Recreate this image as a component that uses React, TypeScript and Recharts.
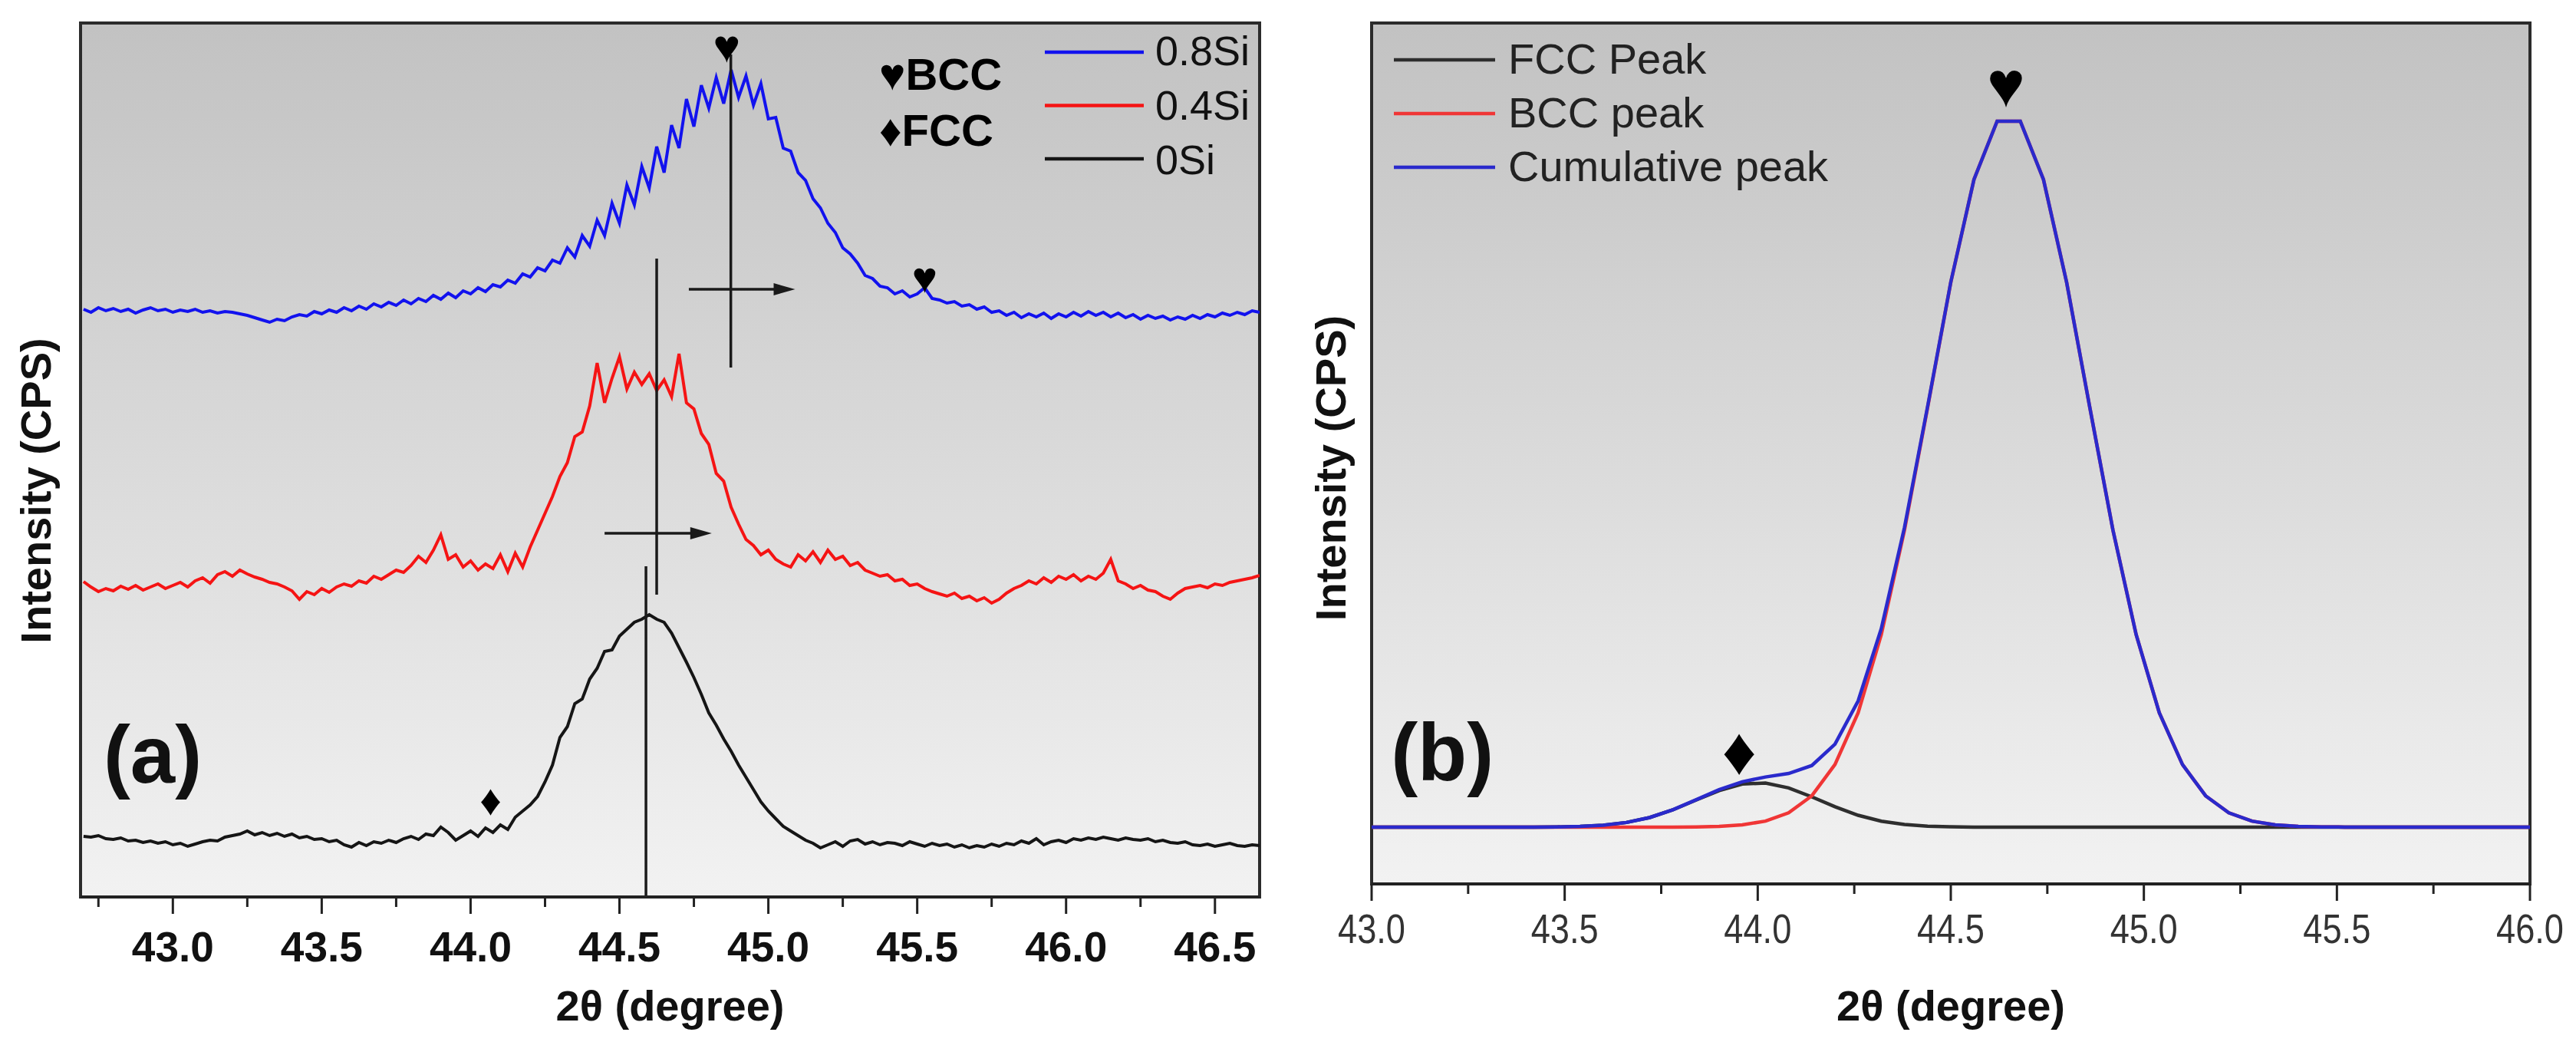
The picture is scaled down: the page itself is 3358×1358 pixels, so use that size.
import {
  Label,
  Legend,
  Line,
  LineChart,
  ReferenceArea,
  ReferenceDot,
  ReferenceLine,
  XAxis,
  YAxis,
} from "recharts";

const FONT = "'Liberation Sans', Arial, sans-serif";
const NARROW = "'Liberation Sans Narrow', 'Arial Narrow', 'Liberation Sans', Arial, sans-serif";

// ---------- panel (a): measured XRD patterns (offset for clarity) ----------
const twoThetaA = [
  42.7, 42.725, 42.75, 42.775, 42.8, 42.825, 42.85, 42.875,
  42.9, 42.925, 42.95, 42.975, 43.0, 43.025, 43.05, 43.075,
  43.1, 43.125, 43.15, 43.175, 43.2, 43.225, 43.25, 43.275,
  43.3, 43.325, 43.35, 43.375, 43.4, 43.425, 43.45, 43.475,
  43.5, 43.525, 43.55, 43.575, 43.6, 43.625, 43.65, 43.675,
  43.7, 43.725, 43.75, 43.775, 43.8, 43.825, 43.85, 43.875,
  43.9, 43.925, 43.95, 43.975, 44.0, 44.025, 44.05, 44.075,
  44.1, 44.125, 44.15, 44.175, 44.2, 44.225, 44.25, 44.275,
  44.3, 44.325, 44.35, 44.375, 44.4, 44.425, 44.45, 44.475,
  44.5, 44.525, 44.55, 44.575, 44.6, 44.625, 44.65, 44.675,
  44.7, 44.725, 44.75, 44.775, 44.8, 44.825, 44.85, 44.875,
  44.9, 44.925, 44.95, 44.975, 45.0, 45.025, 45.05, 45.075,
  45.1, 45.125, 45.15, 45.175, 45.2, 45.225, 45.25, 45.275,
  45.3, 45.325, 45.35, 45.375, 45.4, 45.425, 45.45, 45.475,
  45.5, 45.525, 45.55, 45.575, 45.6, 45.625, 45.65, 45.675,
  45.7, 45.725, 45.75, 45.775, 45.8, 45.825, 45.85, 45.875,
  45.9, 45.925, 45.95, 45.975, 46.0, 46.025, 46.05, 46.075,
  46.1, 46.125, 46.15, 46.175, 46.2, 46.225, 46.25, 46.275,
  46.3, 46.325, 46.35, 46.375, 46.4, 46.425, 46.45, 46.475,
  46.5, 46.525, 46.55, 46.575, 46.6, 46.625, 46.65,
];

const si0 = [
  79, 78, 80, 76, 75, 77, 73, 74,
  71, 73, 70, 72, 68, 70, 66, 69,
  72, 74, 73, 78, 80, 82, 86, 81,
  84, 80, 83, 79, 82, 77, 79, 75,
  76, 72, 74, 68, 65, 71, 67, 72,
  70, 74, 71, 76, 79, 75, 82, 80,
  91, 84, 74, 80, 86, 79, 90, 84,
  94, 88, 104, 112, 120, 131, 150, 172,
  208, 222, 252, 258, 284, 298, 320, 322,
  340, 349, 358, 362, 368, 362, 358, 344,
  325, 306, 286, 264, 240, 224, 206, 190,
  172, 156, 140, 124, 112, 102, 92, 86,
  80, 74, 70, 64, 68, 72, 66, 73,
  75, 69, 72, 68, 71, 70, 67, 72,
  69, 66, 70, 67, 69, 65, 68, 64,
  67, 65, 69, 66, 70, 68, 73, 70,
  76, 68, 72, 74, 71, 76, 74, 77,
  75, 78, 76, 74, 77, 75, 74, 76,
  72, 74, 71, 70, 72, 68, 67, 69,
  66, 68, 70, 67, 66, 68, 67,
];

const si04 = [
  411, 404, 398, 402, 399, 405, 401, 406,
  400, 404, 408, 402, 406, 410, 404, 412,
  416, 409, 420, 424, 418, 426, 421, 417,
  414, 410, 408, 404, 399, 388, 398, 394,
  402, 397, 404, 408, 405, 412, 409, 418,
  414, 420, 426, 423, 432, 444, 436, 452,
  472, 440, 446, 430, 438, 426, 434, 428,
  446, 424, 448, 430, 456, 478, 500, 522,
  548, 566, 600, 606, 640, 696, 644, 676,
  704, 662, 684, 668, 682, 660, 674, 652,
  708, 644, 636, 604, 590, 552, 542, 508,
  486, 466, 458, 446, 452, 440, 434, 430,
  446, 438, 450, 436, 452, 440, 444, 432,
  436, 426, 422, 418, 420, 412, 414, 406,
  408, 402, 398, 395, 392, 396, 389, 392,
  386, 390, 383, 388, 396, 402, 406, 412,
  408, 416, 410, 418, 414, 420, 412, 418,
  414, 422, 440, 412, 408, 402, 406, 400,
  398, 392, 388, 396, 402, 404, 406, 403,
  408, 406, 410, 412, 414, 416, 419,
];

const si08 = [
  766, 762, 768, 764, 767, 763, 766, 761,
  765, 768, 764, 766, 762, 765, 763, 766,
  762, 764, 761, 763, 762, 760, 758, 755,
  752, 749, 753, 751, 756, 759, 757, 763,
  760, 765, 762, 768, 764, 770, 766, 773,
  769, 775, 771, 778, 773, 780, 776, 784,
  779, 787, 781, 790, 786, 794, 789, 798,
  795, 804, 800, 812, 808, 820, 816, 830,
  826, 846, 834, 862, 848, 882, 862, 904,
  878, 928, 902, 952, 924, 978, 944, 1006,
  976, 1040, 1004, 1058, 1028, 1068, 1034, 1078,
  1042, 1070, 1032, 1060, 1014, 1016, 976, 972,
  944, 934, 910, 898, 878, 866, 846, 838,
  826, 810, 806, 796, 794, 786, 790, 782,
  786, 794, 780, 778, 774, 776, 770, 772,
  766, 769, 762, 764, 758, 762, 755, 760,
  756, 761, 754, 760, 756, 762, 757, 763,
  758, 762, 756, 761, 755, 759, 753, 758,
  754, 757, 752, 756, 753, 758, 754, 759,
  756, 761, 758, 762, 759, 764, 762,
];

const majorTicksA = [43.0, 43.5, 44.0, 44.5, 45.0, 45.5, 46.0, 46.5];
const minorTicksA = [42.75, 43.25, 43.75, 44.25, 44.75, 45.25, 45.75, 46.25];

// ---------- panel (b): peak deconvolution ----------
const twoThetaB = [
  43.0, 43.06, 43.12, 43.18, 43.24, 43.3, 43.36, 43.42, 43.48, 43.54,
  43.6, 43.66, 43.72, 43.78, 43.84, 43.9, 43.96, 44.02, 44.08, 44.14,
  44.2, 44.26, 44.32, 44.38, 44.44, 44.5, 44.56, 44.62, 44.68, 44.74,
  44.8, 44.86, 44.92, 44.98, 45.04, 45.1, 45.16, 45.22, 45.28, 45.34,
  45.4, 45.46, 45.52, 45.58, 45.64, 45.7, 45.76, 45.82, 45.88, 45.94,
  46.0,
];

const fccPeak = [
  0, 0, 0, 0, 0, 0, 0, 0.1, 0.3, 0.9,
  2.5, 6.1, 12.5, 22.5, 35.2, 47.7, 56.2, 57.5, 51.2, 39.5,
  26.6, 15.5, 7.8, 3.5, 1.3, 0.4, 0.1, 0, 0, 0,
  0, 0, 0, 0, 0, 0, 0, 0, 0, 0,
  0, 0, 0, 0, 0, 0, 0, 0, 0, 0,
  0,
];

const bccPeak = [
  0, 0, 0, 0, 0, 0, 0, 0, 0, 0,
  0, 0, 0, 0.1, 0.35, 1.1, 3.0, 7.9, 18.7, 40.8,
  81.6, 149, 251, 387, 547, 710, 844, 920, 920, 844,
  710, 547, 387, 251, 149, 81.6, 40.8, 18.7, 7.9, 3.0,
  1.1, 0.35, 0.1, 0, 0, 0, 0, 0, 0, 0,
  0,
];

const cumulativePeak = [
  0, 0, 0, 0, 0, 0, 0, 0.1, 0.3, 0.9,
  2.5, 6.1, 12.5, 22.6, 35.6, 48.8, 59.2, 65.4, 69.9, 80.3,
  108.2, 164.5, 258.8, 390.5, 548.3, 710.4, 844.1, 920, 920, 844,
  710, 547, 387, 251, 149, 81.6, 40.8, 18.7, 7.9, 3.0,
  1.1, 0.35, 0.1, 0, 0, 0, 0, 0, 0, 0,
  0,
];

const majorTicksB = [43.0, 43.5, 44.0, 44.5, 45.0, 45.5, 46.0];
const minorTicksB = [43.25, 43.75, 44.25, 44.75, 45.25, 45.75];

// annotations (2θ, intensity)
const markersA = [
  { t: 44.86, v: 1109, glyph: "♥", size: 60 },
  { t: 45.525, v: 808, glyph: "♥", size: 56 },
  { t: 44.067, v: 127, glyph: "♦", size: 56 },
];
const peakLinesA = [
  { t: 44.874, from: 690, to: 1098 },
  { t: 44.625, from: 394, to: 832 },
  { t: 44.589, from: 0, to: 431 },
];
const shiftArrowsA = [
  { from: 44.733, to: 45.09, v: 792 },
  { from: 44.45, to: 44.81, v: 474 },
];
const markersB = [
  { t: 44.643, v: 968, glyph: "♥", size: 84 },
  { t: 43.952, v: 100, glyph: "♦", size: 88 },
];

const seriesA = [
  { key: "s8", name: "0.8Si", color: "#1212ee" },
  { key: "s4", name: "0.4Si", color: "#f51414" },
  { key: "s0", name: "0Si", color: "#151515" },
];
const phaseKey = [
  { glyph: "♥", name: "BCC" },
  { glyph: "♦", name: "FCC" },
];
const seriesB = [
  { key: "fcc", name: "FCC Peak", color: "#2e2e2e" },
  { key: "bcc", name: "BCC peak", color: "#f03636" },
  { key: "cum", name: "Cumulative peak", color: "#2a2acc" },
];

const dataA = twoThetaA.map((t, i) => ({ t, s0: si0[i], s4: si04[i], s8: si08[i] }));
const dataB = twoThetaB.map((t, i) => ({
  t,
  fcc: fccPeak[i],
  bcc: bccPeak[i],
  cum: cumulativePeak[i],
}));

const AxisTick = (props: any) => {
  const { x, y, payload, majors, labelDy, family, weight, fill, size, squeeze } = props;
  const isMajor = majors.includes(payload.value);
  return (
    <g>
      <line x1={x} x2={x} y1={y} y2={y + (isMajor ? 22 : 13)} stroke="#222" strokeWidth={3} />
      {isMajor && (
        <text
          x={x}
          y={y + labelDy}
          textAnchor="middle"
          fontFamily={family}
          fontWeight={weight}
          fontSize={size}
          fill={fill}
          textLength={squeeze}
          lengthAdjust={squeeze ? "spacingAndGlyphs" : undefined}
        >
          {payload.value.toFixed(1)}
        </text>
      )}
    </g>
  );
};

const glyphShape = (glyph: string, size: number) => (p: any) => (
  <text
    x={p.cx}
    y={p.cy}
    textAnchor="middle"
    dominantBaseline="central"
    fontFamily={FONT}
    fontSize={size}
    fill="#000"
  >
    {glyph}
  </text>
);

const panelText = (label: string) => (p: any) => (
  <text x={p.cx} y={p.cy} fontFamily={FONT} fontWeight="bold" fontSize={105} fill="#111">
    {label}
  </text>
);

const arrowShape = (p: any) => (
  <g>
    <line x1={p.x1} y1={p.y1} x2={p.x2 - 20} y2={p.y2} stroke="#1a1a1a" strokeWidth={3.5} />
    <polygon
      points={`${p.x2},${p.y2} ${p.x2 - 28},${p.y2 - 8} ${p.x2 - 28},${p.y2 + 8}`}
      fill="#1a1a1a"
    />
  </g>
);

const yTitle = (dx: number, dy: number) => (p: any) => {
  const vb = p.viewBox;
  const cx = vb.x + dx;
  const cy = vb.y + vb.height / 2 + dy;
  return (
    <text
      x={cx}
      y={cy}
      transform={`rotate(-90 ${cx} ${cy})`}
      textAnchor="middle"
      dominantBaseline="central"
      fontFamily={FONT}
      fontWeight="bold"
      fontSize={56}
      fill="#111"
    >
      Intensity (CPS)
    </text>
  );
};

const xTitle = (dy: number) => (p: any) => {
  const vb = p.viewBox;
  return (
    <text
      x={vb.x + vb.width / 2}
      y={vb.y + dy}
      textAnchor="middle"
      fontFamily={FONT}
      fontWeight="bold"
      fontSize={56}
      fill="#111"
    >
      2θ (degree)
    </text>
  );
};

const LegendA = () => (
  <svg width={510} height={210} style={{ overflow: "visible" }}>
    {phaseKey.map((p, i) => (
      <text key={p.name} x={16} y={87 + i * 73} fontFamily={FONT} fontWeight="bold" fontSize={58} fill="#000">
        {p.glyph}
        {p.name}
      </text>
    ))}
    {seriesA.map((s, i) => (
      <g key={s.key}>
        <line x1={232} x2={361} y1={38 + i * 69.5} y2={38 + i * 69.5} stroke={s.color} strokeWidth={4.5} />
        <text x={376} y={55 + i * 71} fontFamily={FONT} fontSize={54} fill="#111">
          {s.name}
        </text>
      </g>
    ))}
  </svg>
);

const LegendB = () => (
  <svg width={560} height={220} style={{ overflow: "visible" }}>
    {seriesB.map((s, i) => (
      <g key={s.key}>
        <line x1={17} x2={149} y1={48 + i * 70} y2={48 + i * 70} stroke={s.color} strokeWidth={4.5} />
        <text x={166} y={66 + i * 70} fontFamily={FONT} fontSize={56} fill="#222">
          {s.name}
        </text>
      </g>
    ))}
  </svg>
);

const PanelA = () => (
  <LineChart width={1660} height={1358} data={dataA} margin={{ top: 30, right: 18, bottom: 69, left: 0 }}>
    <defs>
      <linearGradient id="bgA" x1="0" y1="0" x2="0" y2="1">
        <stop offset="0%" stopColor="#c2c2c2" />
        <stop offset="100%" stopColor="#f2f2f2" />
      </linearGradient>
    </defs>
    <XAxis
      type="number"
      dataKey="t"
      domain={[42.69, 46.65]}
      allowDataOverflow
      ticks={[...minorTicksA, ...majorTicksA].sort((a, b) => a - b)}
      interval={0}
      tickSize={0}
      tickMargin={0}
      tickLine={false}
      axisLine={{ stroke: "#222", strokeWidth: 4 }}
      height={120}
      tick={(p: any) => (
        <AxisTick {...p} majors={majorTicksA} labelDy={84} family={FONT} weight="bold" fill="#111" size={55} />
      )}
    >
      <Label content={xTitle(161)} />
    </XAxis>
    <YAxis type="number" domain={[0, 1139]} allowDataOverflow width={105} tick={false} tickLine={false} axisLine={false}>
      <Label content={yTitle(46, 40)} />
    </YAxis>
    <ReferenceArea
      x1={42.69}
      x2={46.65}
      y1={0}
      y2={1139}
      fill="url(#bgA)"
      fillOpacity={1}
      stroke="#2b2b2b"
      strokeWidth={4}
    />
    {seriesA.map((s) => (
      <Line
        key={s.key}
        type="linear"
        dataKey={s.key}
        name={s.name}
        stroke={s.color}
        strokeWidth={4}
        dot={false}
        isAnimationActive={false}
      />
    ))}
    {peakLinesA.map((l, i) => (
      <ReferenceLine
        key={`pl${i}`}
        segment={[
          { x: l.t, y: l.from },
          { x: l.t, y: l.to },
        ]}
        stroke="#1a1a1a"
        strokeWidth={3.5}
      />
    ))}
    {shiftArrowsA.map((a, i) => (
      <ReferenceLine
        key={`ar${i}`}
        segment={[
          { x: a.from, y: a.v },
          { x: a.to, y: a.v },
        ]}
        shape={arrowShape}
      />
    ))}
    {markersA.map((m, i) => (
      <ReferenceDot key={`mk${i}`} x={m.t} y={m.v} r={1} shape={glyphShape(m.glyph, m.size)} />
    ))}
    <ReferenceDot x={42.767} y={149} r={1} shape={panelText("(a)")} />
    <Legend
      layout="horizontal"
      align="center"
      verticalAlign="middle"
      wrapperStyle={{ left: 1130, top: 30, width: 510, height: 210 }}
      content={() => <LegendA />}
    />
  </LineChart>
);

const PanelB = () => (
  <LineChart width={1698} height={1358} data={dataB} margin={{ top: 30, right: 60, bottom: 86, left: 0 }}>
    <defs>
      <linearGradient id="bgB" x1="0" y1="0" x2="0" y2="1">
        <stop offset="0%" stopColor="#c2c2c2" />
        <stop offset="100%" stopColor="#f2f2f2" />
      </linearGradient>
    </defs>
    <XAxis
      type="number"
      dataKey="t"
      domain={[43, 46]}
      allowDataOverflow
      ticks={[...minorTicksB, ...majorTicksB].sort((a, b) => a - b)}
      interval={0}
      tickSize={0}
      tickMargin={0}
      tickLine={false}
      axisLine={{ stroke: "#222", strokeWidth: 4 }}
      height={120}
      tick={(p: any) => (
        <AxisTick
          {...p}
          majors={majorTicksB}
          labelDy={77}
          family={NARROW}
          weight="normal"
          fill="#333"
          size={54}
          squeeze={88}
        />
      )}
    >
      <Label content={xTitle(178)} />
    </XAxis>
    <YAxis type="number" domain={[-74, 1048]} allowDataOverflow width={128} tick={false} tickLine={false} axisLine={false}>
      <Label content={yTitle(74, 19)} />
    </YAxis>
    <ReferenceArea
      x1={43}
      x2={46}
      y1={-74}
      y2={1048}
      fill="url(#bgB)"
      fillOpacity={1}
      stroke="#2b2b2b"
      strokeWidth={4}
    />
    {seriesB.map((s) => (
      <Line
        key={s.key}
        type="linear"
        dataKey={s.key}
        name={s.name}
        stroke={s.color}
        strokeWidth={4.5}
        dot={false}
        isAnimationActive={false}
      />
    ))}
    {markersB.map((m, i) => (
      <ReferenceDot key={`mb${i}`} x={m.t} y={m.v} r={1} shape={glyphShape(m.glyph, m.size)} />
    ))}
    <ReferenceDot x={43.05} y={61} r={1} shape={panelText("(b)")} />
    <Legend
      layout="horizontal"
      align="center"
      verticalAlign="middle"
      wrapperStyle={{ left: 140, top: 30, width: 560, height: 220 }}
      content={() => <LegendB />}
    />
  </LineChart>
);

export default function App() {
  return (
    <div style={{ position: "absolute", left: 0, top: 0, width: 3358, height: 1358, background: "#fff" }}>
      <div style={{ position: "absolute", left: 0, top: 0 }}>
        <PanelA />
      </div>
      <div style={{ position: "absolute", left: 1660, top: 0 }}>
        <PanelB />
      </div>
    </div>
  );
}
